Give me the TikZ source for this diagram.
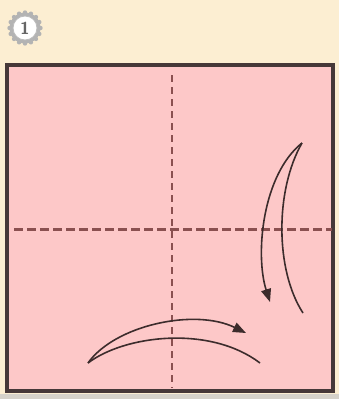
\documentclass[tikz,border=0pt]{standalone}
\usetikzlibrary{arrows.meta}
\definecolor{bgcream}{HTML}{FCEED2}
\definecolor{paperpink}{HTML}{FDC8C8}
\definecolor{edgedark}{HTML}{463838}
\definecolor{foldline}{HTML}{8A5050}
\definecolor{arrowcol}{HTML}{3C2C2C}
\definecolor{stripgray}{HTML}{D6D2CA}
\definecolor{badgegray}{HTML}{A0A0A0}
\tikzset{
  paper/.style={fill=paperpink, draw=edgedark, line width=4pt},
  valley/.style={draw=foldline, line width=3pt, dash pattern=on 9pt off 4pt},
  valleyv/.style={draw=foldline, line width=2.8pt, dash pattern=on 7pt off 5pt},
  foldarrow/.style={draw=arrowcol, line width=1.6pt},
  foldtip/.style={-{Triangle[length=13pt,width=10pt]}},
  badgenum/.style={font=\sffamily\bfseries\LARGE, text=gray!80!black, inner sep=0pt}
}
\begin{document}
\begin{tikzpicture}[x=1pt,y=-1pt]
  \useasboundingbox (0,0) rectangle (339,399);
  \fill[bgcream] (0,0) rectangle (339,399);
  \fill[stripgray] (0,394) rectangle (339,399);
  % badge
  \foreach \a in {0,22.5,...,359} {
    \fill[badgegray!80] (25,28) ++(\a:15.5) circle (2.2);
  }
  \fill[badgegray!80] (25,28) circle (15.5);
  \fill[white] (25,28) circle (12);
  \draw[badgegray!70, line width=0.8pt] (25,28) circle (12);
  \node[badgenum] (num) at (25,28) {1};
  % paper square
  \draw[paper] (7,65) rectangle (333,391);
  % fold lines
  \draw[valleyv] (172,75) -- (172,388);
  \draw[valley] (14,229) -- (332,229);
  % right arrow
  \coordinate (rtop) at (302,143);
  \coordinate (rend) at (270,302);
  \coordinate (rtail) at (303,313);
  \draw[foldarrow, foldtip] (rtop) .. controls (262,175) and (255,255) .. (rend);
  \draw[foldarrow] (rtop) .. controls (275,190) and (275,270) .. (rtail);
  % bottom arrow
  \coordinate (bstart) at (88,363);
  \coordinate (bend) at (246,333);
  \coordinate (btail) at (260,363);
  \draw[foldarrow, foldtip] (bstart) .. controls (115,325) and (195,308) .. (bend);
  \draw[foldarrow] (bstart) .. controls (125,335) and (210,325) .. (btail);
\end{tikzpicture}
\end{document}
